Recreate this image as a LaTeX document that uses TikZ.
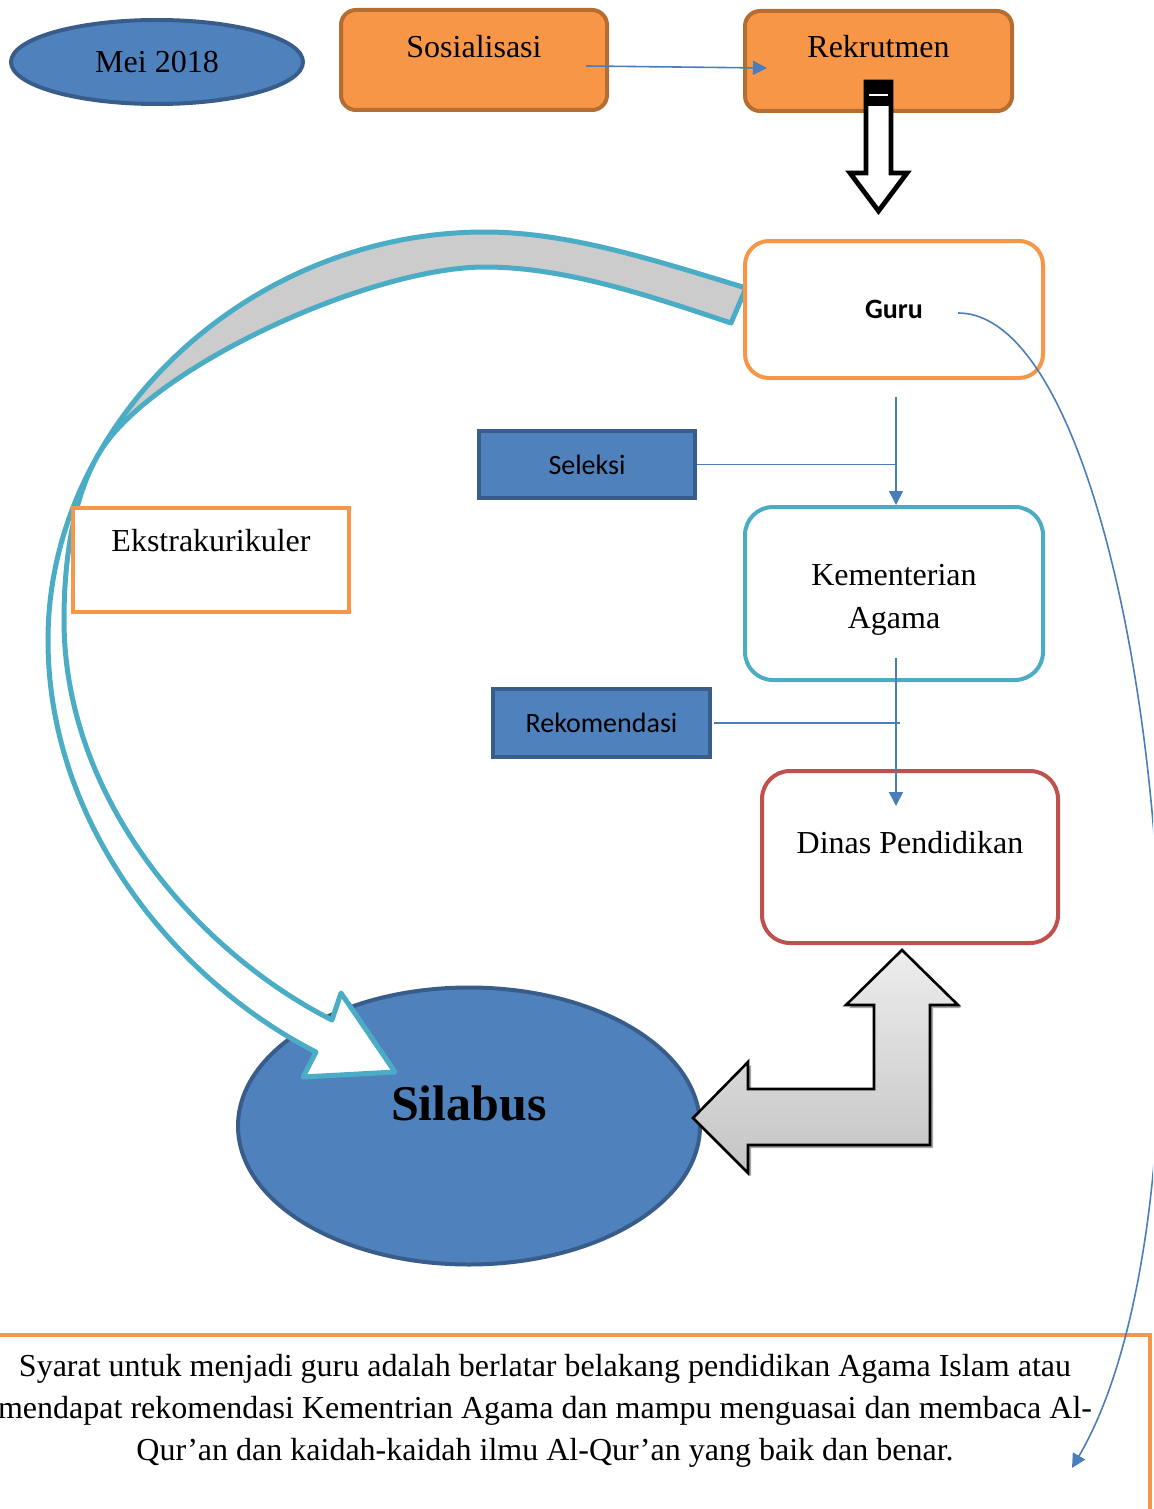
\documentclass[tikz,border=0pt]{standalone}
\usepackage{fontspec}
\setmainfont{Liberation Serif}
\newfontfamily\calibri{Carlito}
\usetikzlibrary{arrows.meta,shadows,calc,shapes.geometric}

\definecolor{accblue}{HTML}{4F81BD}
\definecolor{accblueline}{HTML}{385D8A}
\definecolor{accorange}{HTML}{F79646}
\definecolor{accorangeline}{HTML}{B66D31}
\definecolor{accaqua}{HTML}{4BACC6}
\definecolor{accred}{HTML}{C0504D}
\definecolor{linkblue}{HTML}{4A7EBB}
\definecolor{ribbongray}{HTML}{CCCCCC}
\definecolor{bendtop}{HTML}{EDEDED}
\definecolor{bendbottom}{HTML}{C4C4C4}

\begin{document}
\begin{tikzpicture}[x=0.5pt,y=-0.5pt,
  serif/.style={font=\fontsize{16}{21.5}\selectfont, text=black, inner sep=0pt, align=center},
  sans/.style={font=\calibri\fontsize{14}{17}\selectfont, text=black, inner sep=0pt},
  bluebox/.style={rectangle, draw=accblueline, fill=accblue, line width=2pt, inner sep=0pt},
  orangebox/.style={rectangle, draw=accorangeline, fill=accorange, line width=2pt, rounded corners=7.5pt, inner sep=0pt},
  roundbox/.style={rectangle, draw=#1, fill=white, line width=2pt, rounded corners=14pt, inner sep=0pt},
  plainbox/.style={rectangle, draw=accorange, fill=white, line width=2pt, inner sep=0pt},
  link/.style={draw=linkblue, line width=0.8pt},
  linkarrow/.style={link, -{Triangle[width=7pt,length=7pt]}},
  ribbon/.style={draw=accaqua, line width=2.5pt, line join=round},
]
\useasboundingbox (0,0) rectangle (1153,1509);
\clip (0,0) rectangle (1153,1509);

% --- top row ---
\node[ellipse, draw=accblueline, fill=accblue, line width=2pt, minimum width=146pt, minimum height=42pt,
      inner sep=0pt, serif] (mei) at (157,62) {Mei 2018};
\node[orangebox, minimum width=133pt, minimum height=50pt] (sos) at (474,60) {};
\node[serif] (sostext) at ($(sos.center)+(0,-13)$) {Sosialisasi};
\node[orangebox, minimum width=133.5pt, minimum height=50pt] (rek) at (878.5,61) {};
\node[serif] (rektext) at ($(rek.center)+(0,-14)$) {Rekrutmen};
\draw[linkarrow] ($(sos.east)+(-23,6)$) -- ($(rek.west)+(24,7)$);

% --- block arrow from Rekrutmen down to Guru ---
\begin{scope}[shift={(rek.south)}]
  \draw[black, line width=2.4pt, fill=white, line join=miter]
    (-12.5,-31) -- (-12.5,60) -- (-28.5,60) -- (0,98) -- (28.5,60) -- (12.5,60) -- (12.5,-31) -- cycle;
  \fill[black] (-14.5,-32) rectangle (14.5,-7);
  \draw[white, line width=1.2pt] (-9.5,-18) -- (9.5,-18);
\end{scope}

% --- Silabus ---
\node[ellipse, draw=accblueline, fill=accblue, line width=2pt, minimum width=231pt, minimum height=138.5pt,
      inner sep=0pt] (sil) at (469,1126) {};
\node[font=\bfseries\fontsize{25}{30}\selectfont, inner sep=0pt] (siltext) at ($(sil.center)+(0,-23)$) {Silabus};

% --- curved ribbon arrow from Guru round to Silabus ---
% shaded back of the ribbon
\path[ribbon, fill=ribbongray]
  (746,288) .. controls (660,262) and (570,232) .. (485,232)
  .. controls (319.8,232) and (171.8,324.5) .. (97.8,455.4)
  .. controls (147,368.4) and (370,267) .. (485,267)
  .. controls (565,267) and (650,296) .. (731,323) -- cycle;
% front of the ribbon with its head
\path[ribbon, fill=white]
  (97.8,455.4) .. controls (66.1,511.1) and (48,574) .. (48,640)
  .. controls (48,830) and (182,984) .. (316,1052)
  -- (303,1077) -- (395,1072) -- (341,993) -- (332,1020)
  .. controls (198,952) and (64,800) .. (64,620)
  .. controls (64,560) and (73,499) .. (97.8,455.4) -- cycle;

% --- left box ---
\node[plainbox, minimum width=138pt, minimum height=52pt] (eks) at (211,560) {};
\node[serif] (ekstext) at ($(eks.center)+(0,-19)$) {Ekstrakurikuler};

% --- right column ---
\node[roundbox=accorange, rounded corners=12pt, minimum width=149pt, minimum height=68.5pt,
      sans, font=\calibri\bfseries\fontsize{14}{17}\selectfont] (guru) at (894,309.5) {Guru};
\node[roundbox=accaqua, minimum width=149pt, minimum height=86.5pt] (kem) at (894,593.5) {};
\node[serif] (kemtext) at ($(kem.center)+(0,6)$) {Kementerian\\Agama};
\node[roundbox=accred, minimum width=148pt, minimum height=86pt] (dinas) at (910,857) {};
\node[serif] (dinastext) at ($(dinas.center)+(0,-14)$) {Dinas Pendidikan};

\node[bluebox, minimum width=108pt, minimum height=33.5pt, sans] (sel) at (587,464.5) {Seleksi};
\node[bluebox, minimum width=108.5pt, minimum height=34pt, sans] (rekom) at (601.5,723) {Rekomendasi};

\coordinate (gk) at ($(guru.south)+(2,17)$);
\draw[linkarrow] (gk) -- ($(kem.north)+(2,0)$);
\draw[link] (sel.east) -- (sel.east -| gk);
\coordinate (kd) at ($(kem.center)+(2,64.5)$);
\draw[linkarrow] (kd) -- ($(dinas.north)+(-14,37)$);
\draw[link] ($(rekom.east)+(2,0)$) -- ($(rekom.east -| kd)+(4,0)$);

% --- bent double arrow between Silabus and Dinas Pendidikan ---
\path[draw=black, line width=1.3pt, line join=miter, top color=bendtop, bottom color=bendbottom,
      drop shadow={shadow xshift=1.5pt, shadow yshift=-1.5pt, opacity=0.35, fill=black}]
  (693,1118) -- (748,1062) -- (748,1089) -- (874,1089) -- (874,1005) -- (846,1005) -- (902,950)
  -- (958,1005) -- (930,1005) -- (930,1145) -- (748,1145) -- (748,1173) -- cycle;

% --- note box ---
\node[rectangle, draw=accorange, line width=2pt, minimum width=584pt, minimum height=100pt,
      anchor=north west, inner sep=0pt] (note) at (-20,1333) {};
\node[font=\fontsize{16}{21}\selectfont, align=center, inner sep=0pt] (notetext) at (545,1411)
  {Syarat untuk menjadi guru adalah berlatar belakang pendidikan Agama Islam atau\\
   mendapat rekomendasi Kementrian Agama dan mampu menguasai dan membaca Al-\\
   Qur’an dan kaidah-kaidah ilmu Al-Qur’an yang baik dan benar.};

\coordinate (noteend) at (1072,1468);
\draw[linkarrow] ($(guru.center)+(64,3.5)$) .. controls (1145,313) and (1240,1180) .. (noteend);
\end{tikzpicture}
\end{document}
